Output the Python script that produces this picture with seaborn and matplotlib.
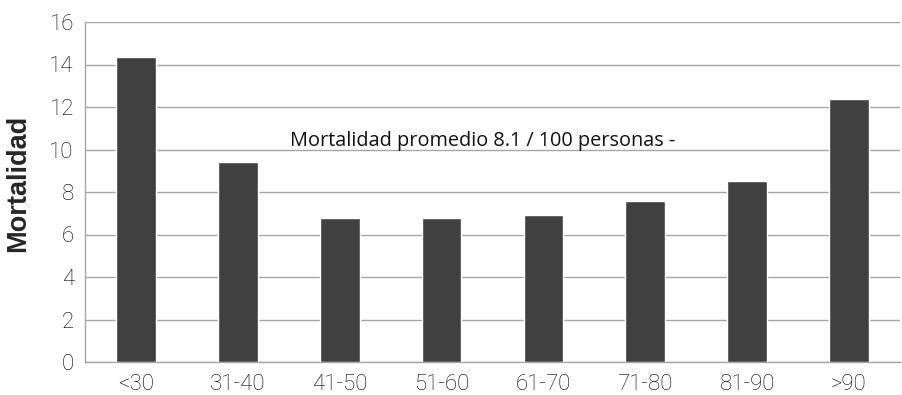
import matplotlib
matplotlib.use("Agg")
import matplotlib.pyplot as plt
import seaborn as sns
import pandas as pd

# Mortality by age group
age_groups = ["<30", "31-40", "41-50", "51-60", "61-70", "71-80", "81-90", ">90"]
mortality = [14.35, 9.4, 6.8, 6.8, 6.9, 7.6, 8.5, 12.4]
y_ticks = [0, 2, 4, 6, 8, 10, 12, 14, 16]
note_text = "Mortalidad promedio 8.1 / 100 personas -"

sns.set_style("white")
plt.rcParams["font.family"] = ["Roboto", "DejaVu Sans"]

df = pd.DataFrame({"grupo": age_groups, "mortalidad": mortality})

fig = plt.figure(figsize=(9.02, 3.95), dpi=100)
ax = fig.add_axes([85 / 902, 33 / 395, 815 / 902, 340 / 395])

sns.barplot(data=df, x="grupo", y="mortalidad", color="#404040",
            saturation=1, width=0.39, ax=ax, zorder=3)

ax.set_ylim(0, 16)
ax.set_xlim(-0.5, len(age_groups) - 0.5)
ax.set_yticks(y_ticks)
ax.set_yticklabels([str(t) for t in y_ticks], fontsize=16, fontweight="light",
                   color="#000000")
ax.set_xticks(range(len(age_groups)))
ax.set_xticklabels(age_groups, fontsize=16, fontweight="light", color="#000000")
ax.tick_params(axis="y", length=0, pad=8)
ax.tick_params(axis="x", length=0, pad=9)
ax.yaxis.grid(True, color="#a6a6a6", linewidth=1, zorder=0)
ax.set_axisbelow(True)

for side in ["top", "right"]:
    ax.spines[side].set_visible(False)
for side in ["left", "bottom"]:
    ax.spines[side].set_color("#a6a6a6")
    ax.spines[side].set_linewidth(1)

ax.set_xlabel("")
ax.set_ylabel("Mortalidad", fontsize=19.5, fontweight="bold",
              family=["Liberation Sans", "DejaVu Sans"])
ax.yaxis.set_label_coords(-54 / 815, 0.524)

ax.text(1.51, 10.15, note_text, fontsize=14.3, color="#111111",
        family=["Open Sans", "DejaVu Sans"], va="baseline", ha="left")

fig.savefig("out.png", dpi=100)
